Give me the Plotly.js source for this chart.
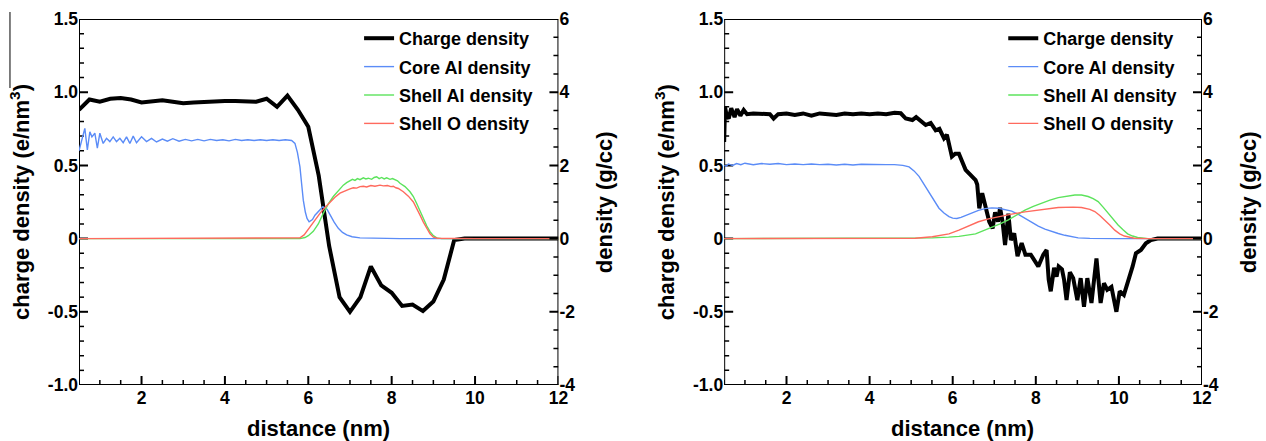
<!DOCTYPE html>
<html>
<head>
<meta charset="utf-8">
<script src="https://cdn.plot.ly/plotly-3.0.1.min.js"></script>
<style>
  html, body { margin: 0; padding: 0; background: #fff; }
  #chart { width: 1266px; height: 441px; }
</style>
</head>
<body>
<div id="chart"></div>
<script>
// ---------- Panel 1 (left) ----------
const xCharge1 = [0.5,0.75,1.0,1.25,1.5,1.75,2.0,2.25,2.5,2.75,3.0,3.25,3.5,3.75,4.0,4.25,4.5,4.75,5.0,5.25,5.5,5.75,6.0,6.25,6.5,6.75,7.0,7.25,7.5,7.75,8.0,8.25,8.5,8.75,9.0,9.25,9.5,9.75,10.0,10.5,11.0,11.5,12.0];
const yCharge1 = [0.88,0.95,0.935,0.955,0.96,0.95,0.93,0.94,0.945,0.935,0.925,0.93,0.935,0.935,0.94,0.94,0.94,0.935,0.955,0.90,0.977,0.88,0.764,0.43,-0.05,-0.40,-0.50,-0.40,-0.19,-0.32,-0.37,-0.46,-0.45,-0.495,-0.43,-0.28,-0.01,0.0,0,0,0,0,0];

const xCore1 = [0.5,0.55,0.6,0.64,0.7,0.76,0.81,0.88,0.94,1.0,1.08,1.16,1.24,1.32,1.4,1.48,1.56,1.64,1.72,1.8,1.88,2.0,2.12,2.24,2.36,2.5,2.62,2.75,2.9,3.05,3.2,3.35,3.5,3.65,3.8,3.95,4.1,4.25,4.4,4.55,4.7,4.85,5.0,5.15,5.3,5.45,5.6,5.68,5.74,5.8,5.84,5.88,5.93,5.97,6.02,6.1,6.16,6.25,6.35,6.45,6.52,6.62,6.72,6.82,6.92,7.05,7.24,7.5,7.8,8.2,9.0,10,11,12];
const yCore1 = [2.4,2.6,2.83,3.01,2.42,2.92,2.78,2.88,2.47,2.88,2.6,2.74,2.65,2.78,2.65,2.74,2.62,2.78,2.6,2.8,2.62,2.78,2.65,2.74,2.64,2.72,2.66,2.73,2.66,2.71,2.67,2.71,2.67,2.71,2.68,2.70,2.67,2.71,2.68,2.70,2.68,2.70,2.68,2.70,2.68,2.70,2.68,2.6,2.35,1.96,1.5,1.05,0.72,0.55,0.46,0.52,0.64,0.76,0.87,0.8,0.64,0.45,0.28,0.17,0.1,0.05,0.02,0.01,0,0,0,0,0,0];

const xShellAl1 = [0.5,5.0,5.8,5.92,6.0,6.12,6.24,6.36,6.48,6.6,6.72,6.84,6.92,7.0,7.06,7.12,7.18,7.24,7.32,7.38,7.44,7.52,7.58,7.64,7.7,7.76,7.82,7.88,7.96,8.02,8.08,8.14,8.2,8.32,8.44,8.52,8.6,8.68,8.76,8.84,8.92,9.0,9.08,9.2,10,12];
const yShellAl1 = [0,0,0,0.03,0.08,0.2,0.4,0.69,0.95,1.15,1.32,1.46,1.53,1.58,1.62,1.59,1.64,1.61,1.66,1.63,1.65,1.62,1.67,1.69,1.64,1.67,1.63,1.66,1.62,1.64,1.6,1.58,1.51,1.42,1.28,1.15,0.96,0.75,0.55,0.35,0.19,0.08,0.02,0,0,0];

const xShellO1 = [0.5,5.0,5.7,5.8,5.9,6.04,6.16,6.28,6.4,6.52,6.64,6.76,6.88,7.0,7.08,7.16,7.24,7.32,7.4,7.5,7.6,7.72,7.8,7.9,7.98,8.04,8.1,8.16,8.28,8.4,8.52,8.6,8.68,8.76,8.84,8.92,9.0,9.1,10,12];
const yShellO1 = [0,0,0,0.02,0.1,0.33,0.5,0.69,0.85,1.0,1.13,1.24,1.31,1.36,1.39,1.38,1.42,1.43,1.41,1.45,1.43,1.46,1.44,1.45,1.42,1.43,1.39,1.37,1.28,1.16,1.0,0.84,0.64,0.45,0.28,0.13,0.04,0.01,0,0];

// ---------- Panel 2 (right) ----------
const xCharge2 = [0.5,0.52,0.56,0.61,0.67,0.75,0.81,0.89,0.97,1.05,1.2,1.4,1.6,1.69,1.8,2.0,2.2,2.4,2.6,2.8,3.0,3.2,3.4,3.6,3.8,4.0,4.2,4.4,4.6,4.75,4.87,5.03,5.12,5.23,5.35,5.47,5.59,5.68,5.79,5.86,5.98,6.06,6.15,6.31,6.45,6.55,6.59,6.64,6.71,6.79,6.88,6.96,7.02,7.09,7.14,7.2,7.26,7.34,7.4,7.48,7.56,7.66,7.75,7.88,7.96,8.06,8.18,8.26,8.31,8.36,8.44,8.5,8.55,8.63,8.68,8.74,8.82,8.9,9.0,9.08,9.16,9.24,9.34,9.46,9.56,9.64,9.72,9.82,9.94,10.02,10.12,10.21,10.33,10.41,10.53,10.65,10.77,10.93,11.2,11.6,12.0];
const yCharge2 = [0.66,0.90,0.84,0.82,0.89,0.83,0.885,0.84,0.878,0.85,0.855,0.85,0.85,0.82,0.85,0.855,0.845,0.855,0.84,0.855,0.85,0.845,0.855,0.85,0.855,0.85,0.855,0.85,0.86,0.856,0.82,0.81,0.83,0.80,0.776,0.79,0.74,0.75,0.685,0.71,0.56,0.58,0.58,0.47,0.43,0.40,0.37,0.207,0.31,0.22,0.115,0.07,0.18,0.115,0.21,0.115,-0.044,0.17,-0.01,0.036,-0.12,-0.03,-0.11,-0.11,-0.15,-0.19,-0.11,-0.078,-0.28,-0.36,-0.20,-0.26,-0.19,-0.21,-0.28,-0.42,-0.23,-0.27,-0.42,-0.27,-0.465,-0.27,-0.44,-0.135,-0.44,-0.305,-0.35,-0.33,-0.50,-0.36,-0.385,-0.305,-0.19,-0.10,-0.078,-0.032,-0.01,0.0,0.0,0.0,0.0];

const xCore2 = [0.5,0.55,0.6,0.7,0.8,0.9,1.0,1.2,1.4,1.6,1.8,2.0,2.2,2.4,2.6,2.8,3.0,3.2,3.4,3.6,3.8,4.0,4.2,4.4,4.6,4.8,4.95,5.07,5.19,5.31,5.43,5.55,5.67,5.79,5.91,6.0,6.1,6.2,6.31,6.46,6.62,6.78,6.94,7.1,7.26,7.42,7.58,7.74,7.9,8.06,8.22,8.38,8.54,8.7,8.86,9.02,9.3,9.6,10,11,12];
const yCore2 = [2.0,1.98,2.04,2.0,2.05,2.02,2.06,2.02,2.05,2.03,2.05,2.02,2.04,2.02,2.04,2.02,2.03,2.01,2.03,2.01,2.03,2.02,2.02,2.02,2.02,2.0,1.96,1.85,1.7,1.48,1.24,1.02,0.83,0.7,0.6,0.56,0.55,0.58,0.63,0.7,0.77,0.82,0.84,0.83,0.8,0.75,0.66,0.55,0.44,0.34,0.26,0.19,0.14,0.09,0.05,0.02,0.005,0,0,0,0];

const xShellAl2 = [0.5,4.7,5.51,5.9,6.15,6.55,6.94,7.14,7.34,7.54,7.74,7.94,8.14,8.34,8.54,8.74,8.94,9.1,9.26,9.38,9.5,9.62,9.74,9.86,9.98,10.1,10.21,10.33,10.45,10.7,12];
const yShellAl2 = [0,0,0.02,0.04,0.06,0.13,0.3,0.4,0.51,0.64,0.78,0.88,0.97,1.05,1.12,1.16,1.19,1.19,1.15,1.09,1.01,0.86,0.69,0.52,0.37,0.24,0.13,0.07,0.03,0,0];

const xShellO2 = [0.5,4.7,5.1,5.51,5.91,6.15,6.35,6.62,6.86,7.1,7.42,7.74,8.14,8.54,8.9,9.1,9.3,9.42,9.54,9.66,9.78,9.9,10.02,10.13,10.25,10.37,10.7,12];
const yShellO2 = [0,0,0.01,0.05,0.13,0.23,0.33,0.46,0.54,0.6,0.67,0.73,0.8,0.85,0.86,0.85,0.8,0.74,0.63,0.51,0.37,0.23,0.13,0.07,0.03,0.01,0,0];

// ---------- Labels / ticks ----------
const seriesNames = ['Charge density', 'Core Al density', 'Shell Al density', 'Shell O density'];
const xRange = [0.5, 12];
const leftRange = [-1, 1.5];
const rightRange = [-4, 6];
const xTickVals = [2, 4, 6, 8, 10, 12];
const xTickText = ['2', '4', '6', '8', '10', '12'];
const xMinorVals = [0.5,1,1.5,2.5,3,3.5,4.5,5,5.5,6.5,7,7.5,8.5,9,9.5,10.5,11,11.5];
const leftTickVals = [-1, -0.5, 0, 0.5, 1, 1.5];
const leftTickText = ['-1.0', '-0.5', '0', '0.5', '1.0', '1.5'];
const leftMinorVals = [-0.9,-0.8,-0.7,-0.6,-0.4,-0.3,-0.2,-0.1,0.1,0.2,0.3,0.4,0.6,0.7,0.8,0.9,1.1,1.2,1.3,1.4];
const rightTickVals = [-4, -2, 0, 2, 4, 6];
const rightTickText = ['-4', '-2', '0', '2', '4', '6'];
const rightMinorVals = [-3.5,-3,-2.5,-1.5,-1,-0.5,0.5,1,1.5,2.5,3,3.5,4.5,5,5.5];
const xTitle = 'distance (nm)';
const leftTitle = 'charge density (e/nm<sup>3</sup>)';
const rightTitle = 'density (g/cc)';

// ---------- Geometry (pixels of the 1266x441 picture) ----------
const FONT = 'Liberation Sans, Arial, Helvetica, sans-serif';
const W = 1266, H = 441;
const L = 79, R = 1201.7, T = 19, B = 385;
const PW = R - L, PH = B - T;
const px = v => (v - L) / PW;
const py = v => (B - v) / PH;
const colors = ['#000000', '#5b8cf7', '#5ce35c', '#ff6a5e'];
const widths = [4, 1.4, 1.4, 1.4];

function mk(x, y, i, xa, ya, leg) {
  return {
    type: 'scatter', mode: 'lines', x: x, y: y,
    xaxis: xa, yaxis: ya, name: seriesNames[i], legend: leg,
    legendgroup: leg + '_' + i,
    line: { color: colors[i], width: widths[i] },
    hoverinfo: 'skip'
  };
}

const data = [
  mk(xCharge1, yCharge1, 0, 'x', 'y', 'legend'),
  mk(xCore1, yCore1, 1, 'x', 'y2', 'legend'),
  mk(xShellAl1, yShellAl1, 2, 'x', 'y2', 'legend'),
  mk(xShellO1, yShellO1, 3, 'x', 'y2', 'legend'),
  mk(xCharge2, yCharge2, 0, 'x2', 'y3', 'legend2'),
  mk(xCore2, yCore2, 1, 'x2', 'y4', 'legend2'),
  mk(xShellAl2, yShellAl2, 2, 'x2', 'y4', 'legend2'),
  mk(xShellO2, yShellO2, 3, 'x2', 'y4', 'legend2')
];

// ---------- Frame and tick marks as line traces on the panels' own axes ----------
const span = r => r[1] - r[0];
function deco(x, y, xa, ya, wd, leg) {
  return { type: 'scatter', mode: 'lines', x: x, y: y, xaxis: xa, yaxis: ya, legend: leg,
           showlegend: false, hoverinfo: 'skip', cliponaxis: false, connectgaps: false,
           line: { color: '#000000', width: wd } };
}
function frameTrace(xa, ya, leg) {
  return deco([xRange[0], xRange[1], xRange[1], xRange[0], xRange[0]],
              [leftRange[0], leftRange[0], leftRange[1], leftRange[1], leftRange[0]], xa, ya, 2, leg);
}
function xTickTrace(vals, lenPx, wd, xa, ya, leg) {
  const d = lenPx / PH * span(leftRange);
  const x = [], y = [];
  vals.forEach(v => { x.push(v, v, null); y.push(leftRange[0], leftRange[0] + d, null); });
  return deco(x, y, xa, ya, wd, leg);
}
function yTickTrace(vals, range, lenPx, wd, panelW, right, xa, ya, leg) {
  const d = lenPx / panelW * span(xRange);
  const x = [], y = [];
  vals.forEach(v => {
    if (right) x.push(xRange[1] - d, xRange[1], null); else x.push(xRange[0], xRange[0] + d, null);
    y.push(v, v, null);
  });
  return deco(x, y, xa, ya, wd, leg);
}
const w1 = 558.3 - 79, w2 = 1201.7 - 724;
[['x', 'y', 'y2', w1, 'legend'], ['x2', 'y3', 'y4', w2, 'legend2']].forEach(p => {
  const [xa, yl, yr, pw, leg] = p;
  data.push(
    xTickTrace(xTickVals, 9, 2, xa, yl, leg),
    xTickTrace(xMinorVals, 5, 1.5, xa, yl, leg),
    yTickTrace(leftTickVals, leftRange, 9, 2, pw, false, xa, yl, leg),
    yTickTrace(leftMinorVals, leftRange, 5, 1.5, pw, false, xa, yl, leg),
    yTickTrace(rightTickVals, rightRange, 9, 2, pw, true, xa, yr, leg),
    yTickTrace(rightMinorVals, rightRange, 5, 1.5, pw, true, xa, yr, leg),
    frameTrace(xa, yl, leg)
  );
});

const tickFont = { family: FONT, size: 17.5, color: '#000', weight: 'bold' };
function base(extra) {
  return Object.assign({
    ticks: 'inside', ticklen: 9, tickwidth: 2, tickcolor: 'rgba(0,0,0,0)',
    showline: false, showgrid: false, zeroline: false, tickfont: tickFont, fixedrange: true
  }, extra);
}

const dom1 = [px(79), px(558.3)];
const dom2 = [px(724), px(1201.7)];

const titleFont = { family: FONT, size: 22, color: '#000', weight: 'bold' };
function ann(text, x, y, angle) {
  return { text: text, xref: 'paper', yref: 'paper', x: px(x), y: py(y), borderpad: 0,
    xanchor: 'center', yanchor: 'middle', showarrow: false, textangle: angle, font: titleFont };
}

const legendFont = { family: FONT, size: 18, color: '#000', weight: 'bold' };
const layout = {
  width: W, height: H,
  margin: { l: L, r: W - R, t: T, b: H - B, pad: 0 },
  paper_bgcolor: '#ffffff', plot_bgcolor: '#ffffff',
  showlegend: true,
  xaxis: base({ domain: dom1, anchor: 'y', range: xRange, tickmode: 'array', tickvals: xTickVals, ticktext: xTickText }),
  yaxis: base({ domain: [0, 1], anchor: 'x', range: leftRange, tickmode: 'array', tickvals: leftTickVals, ticktext: leftTickText }),
  yaxis2: base({ overlaying: 'y', side: 'right', anchor: 'x', range: rightRange, tickmode: 'array', tickvals: rightTickVals, ticktext: rightTickText }),
  xaxis2: base({ domain: dom2, anchor: 'y3', range: xRange, tickmode: 'array', tickvals: xTickVals, ticktext: xTickText }),
  yaxis3: base({ domain: [0, 1], anchor: 'x2', range: leftRange, tickmode: 'array', tickvals: leftTickVals, ticktext: leftTickText }),
  yaxis4: base({ overlaying: 'y3', side: 'right', anchor: 'x2', range: rightRange, tickmode: 'array', tickvals: rightTickVals, ticktext: rightTickText }),
  legend: { x: px(359), y: py(20), xanchor: 'left', yanchor: 'top', bgcolor: 'rgba(0,0,0,0)', borderwidth: 0,
            font: legendFont, traceorder: 'grouped', tracegroupgap: 2 },
  legend2: { x: px(1003), y: py(20), xanchor: 'left', yanchor: 'top', bgcolor: 'rgba(0,0,0,0)', borderwidth: 0,
            font: legendFont, traceorder: 'grouped', tracegroupgap: 2 },
  annotations: [
    ann(leftTitle, 20, 202, -90),
    ann(rightTitle, 604, 202, -90),
    ann(xTitle, 318, 428, 0),
    ann(leftTitle, 665, 202, -90),
    ann(rightTitle, 1248, 202, -90),
    ann(xTitle, 962, 428, 0)
  ],
  shapes: [
    { type: 'line', xref: 'paper', yref: 'paper', x0: px(10), x1: px(10), y0: py(12), y1: py(88), line: { color: '#000000', width: 1 } }
  ]
};

Plotly.newPlot('chart', data, layout, { displayModeBar: false });
</script>
</body>
</html>
